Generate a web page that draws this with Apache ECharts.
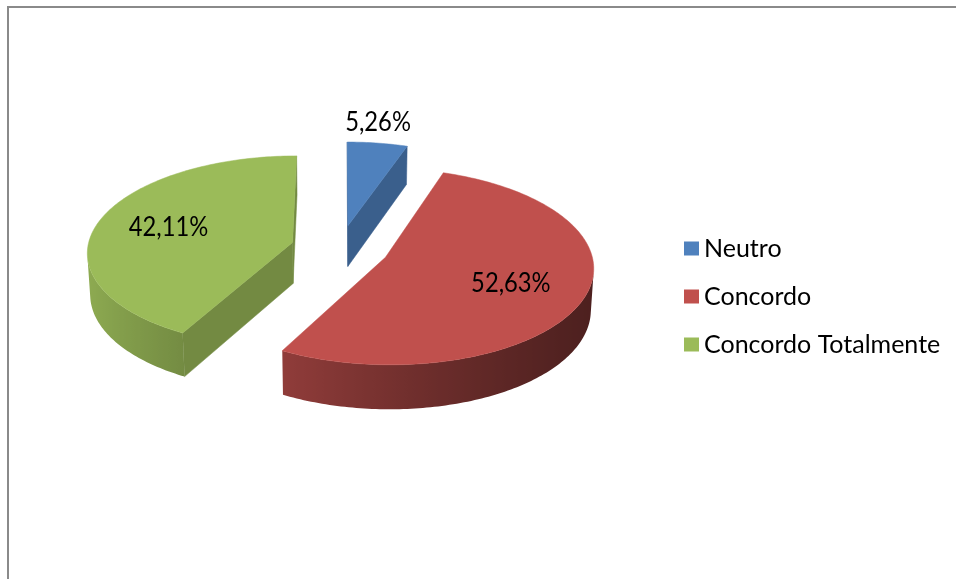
<!DOCTYPE html>
<html><head><meta charset="utf-8">
<script src="https://cdn.jsdelivr.net/npm/echarts/dist/echarts.min.js"></script>
<style>html,body{margin:0;padding:0;background:#fff}#chart{width:956px;height:579px}</style>
</head><body><div id="chart"></div>
<script>
// ---- data ----
const categories = ['Neutro', 'Concordo', 'Concordo Totalmente'];
const values = [5.26, 52.63, 42.11];
const colors = ['#4f81bd', '#c0504d', '#9bbb59'];

// ---- 3D pie layout ----
const CX = 340, CY = 248, S = 205;
const PHI = 27.8 * Math.PI / 180, K0 = 0.106, DEPTH = 0.23, EXPLODE = 0.24;
const sinP = Math.sin(PHI), cosP = Math.cos(PHI);
const LABEL_FONT = "Lato, 'Liberation Sans', sans-serif";
const LEGEND_FONT = "Lato, 'Liberation Sans', sans-serif";

function project(X, Y, Z) {
  const yv = Y * cosP + Z * sinP;
  const zv = -Y * sinP + Z * cosP;
  const f = 1 / (1 + K0 * zv);
  return [CX + S * X * f, CY - S * yv * f];
}
const cam = [0, sinP / K0, -cosP / K0];
function hexRgb(h) { return [parseInt(h.slice(1,3),16), parseInt(h.slice(3,5),16), parseInt(h.slice(5,7),16)]; }
function shade(hex, k) {
  const c = hexRgb(hex).map(v => Math.max(0, Math.min(255, Math.round(v * k))));
  return 'rgb(' + c.join(',') + ')';
}
function wallFactor(t) { const u = (1 - Math.sin(t)) / 2; return 0.40 + 0.52 * Math.pow(Math.max(0, u), 1.3); }
const total = values.reduce((a, b) => a + b, 0);
function sliceAngles(i) {
  let s = 0; for (let j = 0; j < i; j++) s += values[j];
  return [s / total * 2 * Math.PI, (s + values[i]) / total * 2 * Math.PI];
}
function fmt(v) { return v.toFixed(2).replace('.', ',') + '%'; }

function makeRender(i) {
  return function (params, api) {
    const val = api.value(0);
    const color = colors[i];
    const [a1, a2] = sliceAngles(i);
    const m = (a1 + a2) / 2;
    const ox = EXPLODE * Math.sin(m), oz = EXPLODE * Math.cos(m);
    const P = (r, t, Y) => project(ox + r * Math.sin(t), Y, oz + r * Math.cos(t));
    const n = Math.max(2, Math.ceil((a2 - a1) / (Math.PI / 180)));
    const ang = k => a1 + (a2 - a1) * k / n;
    const children = [];
    // top face
    const top = [P(0, 0, 0)];
    for (let k = 0; k <= n; k++) top.push(P(1, ang(k), 0));
    children.push({ type: 'polygon', shape: { points: top }, style: { fill: color, stroke: color, lineWidth: 0.5 }, z2: 3 });
    // outer wall (visible runs)
    const wallVisible = t => (-ox * Math.sin(t) - oz * Math.cos(t) - 1 - Math.cos(t) * cosP / K0) > 0;
    let run = [];
    const flush = () => {
      if (run.length >= 2) {
        const topPts = run.map(t => P(1, t, 0));
        const botPts = run.slice().reverse().map(t => P(1, t, -DEPTH));
        const pts = topPts.concat(botPts);
        const xs = topPts.map(p => p[0]);
        const xmin = Math.min.apply(null, xs), xmax = Math.max.apply(null, xs);
        const stops = run.map((t, idx) => ({ offset: (xmax - xmin) > 0 ? (topPts[idx][0] - xmin) / (xmax - xmin) : 0, color: shade(color, wallFactor(t)) }))
          .sort((a, b) => a.offset - b.offset);
        const fill = new echarts.graphic.LinearGradient(xmin, 0, xmax, 0, stops, true);
        children.push({ type: 'polygon', shape: { points: pts }, style: { fill: fill }, z2: 1 });
      }
      run = [];
    };
    for (let k = 0; k < n; k++) {
      const t0 = ang(k), t1 = ang(k + 1);
      if (wallVisible((t0 + t1) / 2)) {
        if (run.length === 0) run.push(t0);
        run.push(t1);
      } else flush();
    }
    flush();
    // radial cut faces
    const cutFaces = [
      { t: a1, nx: -Math.cos(a1), nz: Math.sin(a1) },
      { t: a2, nx: Math.cos(a2), nz: -Math.sin(a2) }
    ];
    if (values[i] < total) cutFaces.forEach(c => {
      const px = ox + 0.5 * Math.sin(c.t), pz = oz + 0.5 * Math.cos(c.t);
      const d = c.nx * (cam[0] - px) + c.nz * (cam[2] - pz);
      if (d > 0) {
        const fc = shade(color, 0.74);
        children.push({ type: 'polygon', shape: { points: [P(0, c.t, 0), P(1, c.t, 0), P(1, c.t, -DEPTH), P(0, c.t, -DEPTH)] },
          style: { fill: fc, stroke: fc, lineWidth: 0.5 }, z2: 2 });
      }
    });
    // label
    const pct = val / total * 100;
    let lp, va = 'middle';
    if (pct < 10) { lp = P(1.02, m, 0); va = 'bottom'; lp[1] -= 6; }
    else lp = P(0.64, m, 0);
    children.push({ type: 'text', x: lp[0], y: lp[1], z2: 10, scaleX: 0.88,
      style: { text: fmt(pct), fill: '#000', font: '27px ' + LABEL_FONT, align: 'center', verticalAlign: va } });
    return { type: 'group', children };
  };
}

const chart = echarts.init(document.getElementById('chart'), null, { renderer: 'canvas' });
chart.setOption({
  animation: false,
  backgroundColor: '#fff',
  color: colors,
  legend: {
    data: categories,
    orient: 'vertical', left: 684, top: 236, padding: 0,
    itemWidth: 15, itemHeight: 14, itemGap: 23, icon: 'rect',
    selectedMode: false,
    textStyle: { fontFamily: LEGEND_FONT, fontSize: 25, color: '#000' }
  },
  graphic: [{ type: 'polyline', shape: { points: [[8, 579], [8, 7], [956, 7]] }, style: { stroke: '#8a8a8a', lineWidth: 2, fill: null } }],
  series: categories.map((name, i) => ({
    type: 'custom', name: name, coordinateSystem: 'none',
    itemStyle: { color: colors[i] },
    data: [[values[i]]],
    renderItem: makeRender(i)
  }))
});
</script></body></html>
